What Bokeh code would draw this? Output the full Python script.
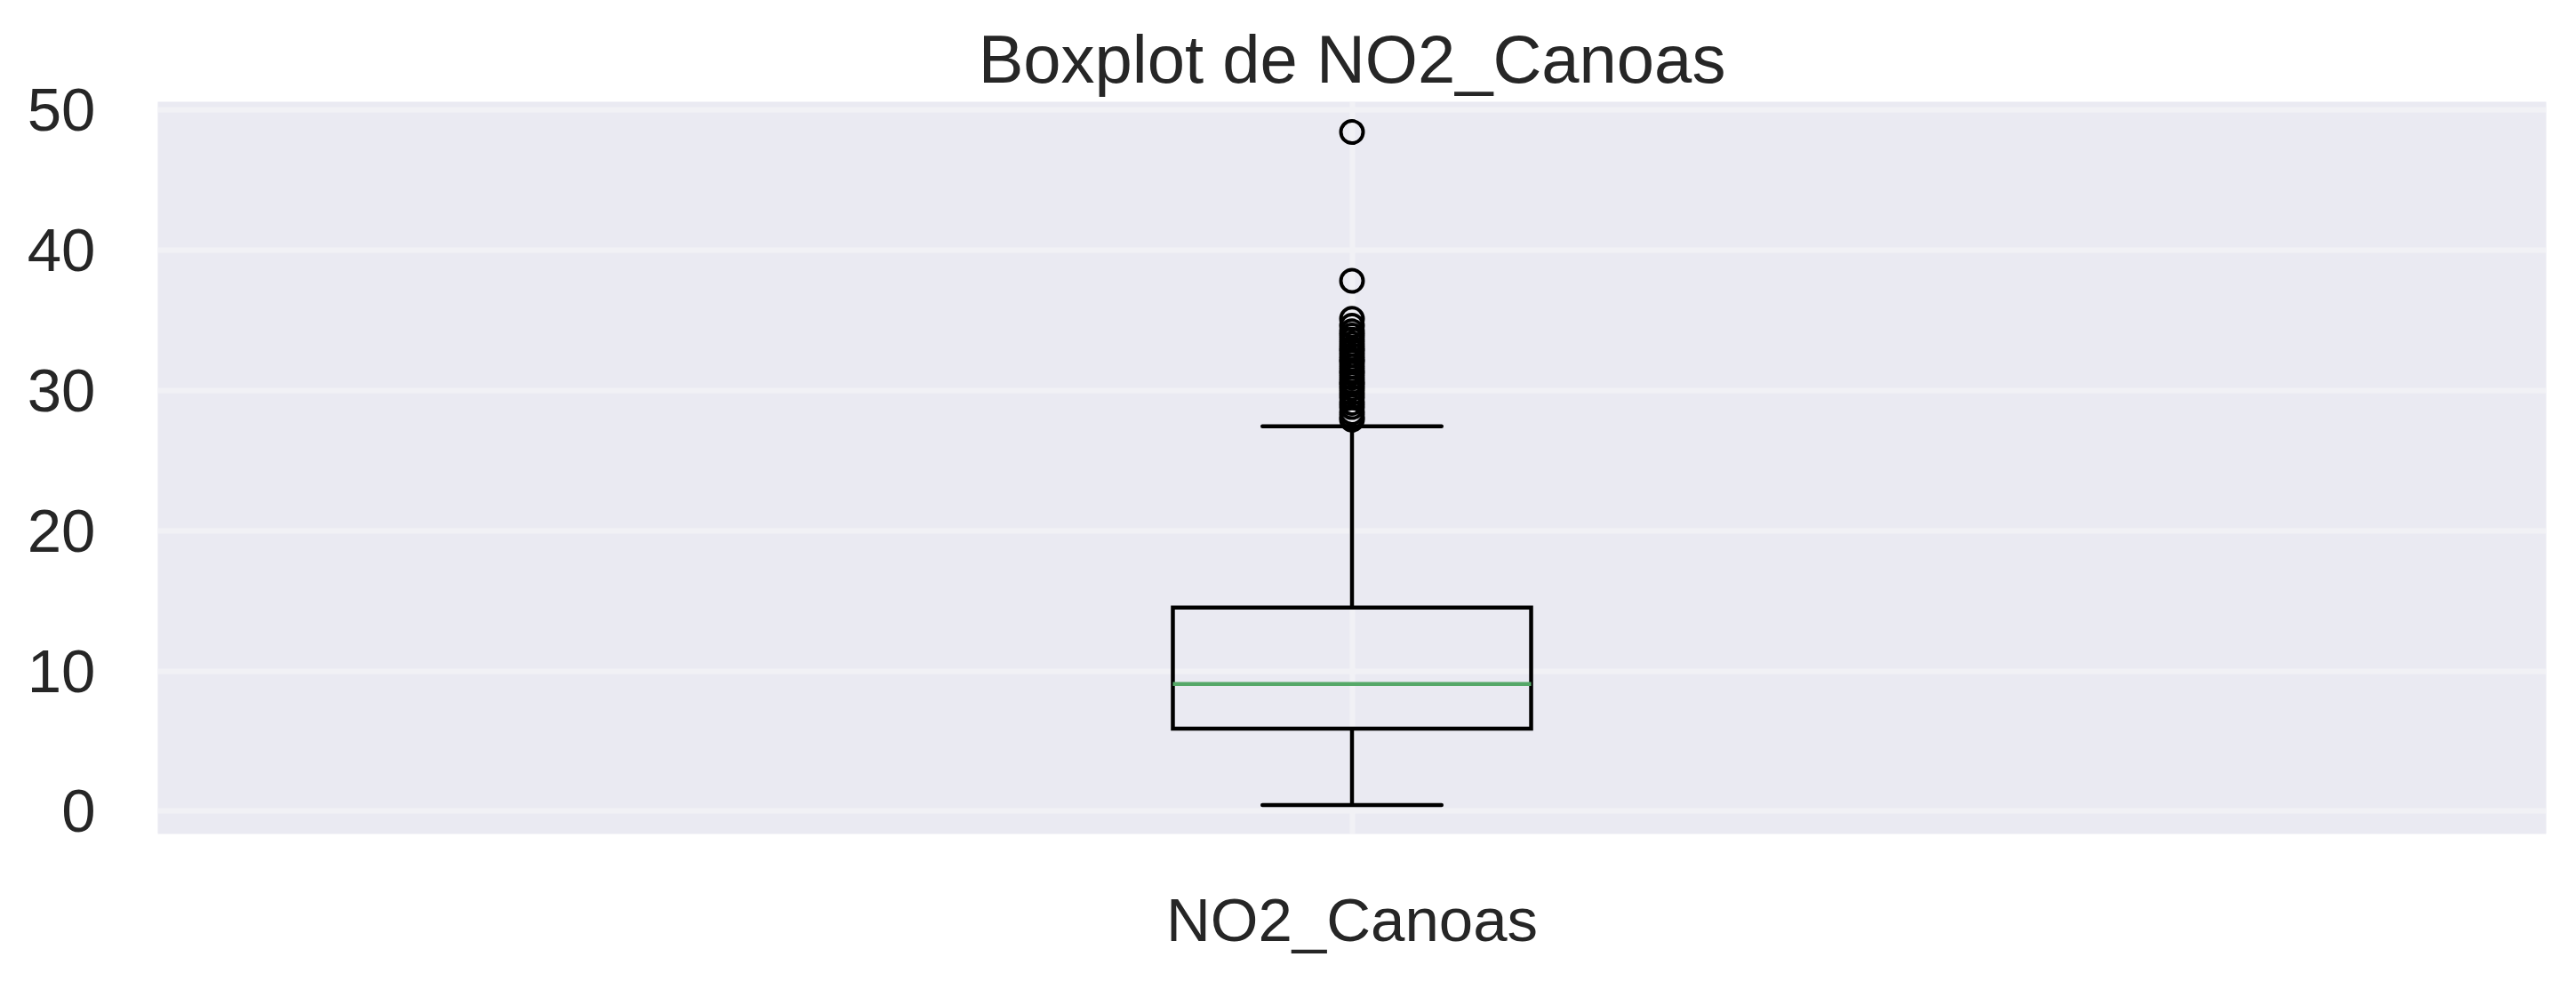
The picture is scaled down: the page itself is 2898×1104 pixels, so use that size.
from bokeh.plotting import figure
from bokeh.models import Range1d, FixedTicker, ColumnDataSource
from bokeh.embed import file_html
from bokeh.resources import INLINE

# ---- data ----
categories = ["NO2_Canoas"]
positions = [1]
q1 = [5.88]
median = [9.06]
q3 = [14.52]
whisker_low = [0.44]
whisker_high = [27.43]
outliers = [48.4, 37.8, 35.1, 34.6, 34.2, 33.9, 33.6, 33.3, 33.0, 32.8, 32.5,
            32.2, 32.0, 31.7, 31.4, 31.2, 30.9, 30.6, 30.4, 30.1, 29.8, 29.5,
            29.1, 28.8, 28.4, 28.1, 27.9]
y_ticks = [0, 10, 20, 30, 40, 50]
title_text = "Boxplot de NO2_Canoas"

FONT = "Liberation Sans"
TEXT_COLOR = "#262626"

p = figure(width=2898, height=1104, output_backend="svg", toolbar_location=None,
           x_range=Range1d(0.5, 1.5), y_range=Range1d(-1.62, 50.56),
           min_border_left=177, min_border_right=34, min_border_top=114,
           min_border_bottom=166, title=title_text)

p.background_fill_color = "#EAEAF2"
p.border_fill_color = "white"
p.outline_line_color = None

# title
p.title.text_font = FONT
p.title.text_font_size = "76px"
p.title.text_font_style = "normal"
p.title.text_color = TEXT_COLOR
p.title.align = "center"
p.title.standoff = 12

# grid
grid_color = "#F1F1F5"
p.xgrid.ticker = FixedTicker(ticks=positions)
p.ygrid.ticker = FixedTicker(ticks=y_ticks)
for g in (p.xgrid, p.ygrid):
    g.grid_line_color = grid_color
    g.grid_line_width = 6

# axes
p.xaxis.ticker = FixedTicker(ticks=positions)
p.xaxis.major_label_overrides = {pos: cat for pos, cat in zip(positions, categories)}
p.yaxis.ticker = FixedTicker(ticks=y_ticks)
for ax in (p.xaxis, p.yaxis):
    ax.axis_line_color = None
    ax.major_tick_line_color = None
    ax.minor_tick_line_color = None
    ax.major_tick_out = 0
    ax.major_tick_in = 0
    ax.major_label_text_font = FONT
    ax.major_label_text_font_size = "69px"
    ax.major_label_text_color = TEXT_COLOR
p.yaxis.major_label_standoff = 70
p.xaxis.major_label_standoff = 58

# box plot pieces
box_half = 0.075
cap_half = 0.0375
lw = 4.5

src = ColumnDataSource(dict(
    x=positions, q1=q1, q3=q3, med=median, lo=whisker_low, hi=whisker_high,
    left=[x - box_half for x in positions], right=[x + box_half for x in positions],
    cl=[x - cap_half for x in positions], cr=[x + cap_half for x in positions],
))

# whiskers
p.segment(x0="x", y0="q3", x1="x", y1="hi", source=src, line_color="black", line_width=lw)
p.segment(x0="x", y0="lo", x1="x", y1="q1", source=src, line_color="black", line_width=lw)
# caps
p.segment(x0="cl", y0="hi", x1="cr", y1="hi", source=src, line_color="black",
          line_width=lw, line_cap="round")
p.segment(x0="cl", y0="lo", x1="cr", y1="lo", source=src, line_color="black",
          line_width=lw, line_cap="round")
# box
p.quad(left="left", right="right", bottom="q1", top="q3", source=src,
       fill_color=None, line_color="black", line_width=lw, line_join="miter")
# median
p.segment(x0="left", y0="med", x1="right", y1="med", source=src,
          line_color="#55A868", line_width=lw)

# outliers
out_src = ColumnDataSource(dict(x=[positions[0]] * len(outliers), y=outliers))
p.scatter(x="x", y="y", source=out_src, marker="circle", size=25,
          fill_color=None, line_color="black", line_width=4)

open("out.html", "w").write(file_html(p, INLINE))
